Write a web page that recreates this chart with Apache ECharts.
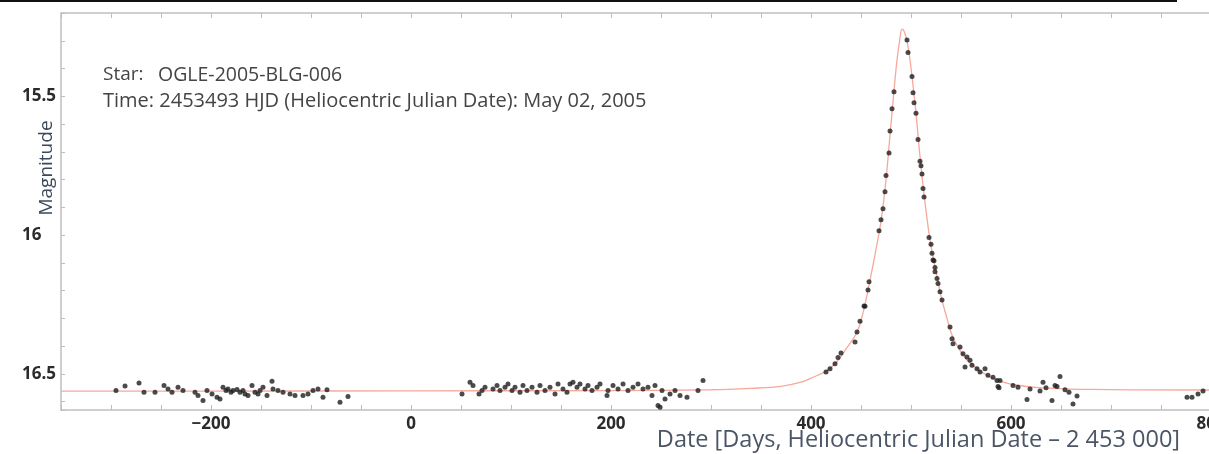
<!DOCTYPE html>
<html>
<head>
<meta charset="utf-8">
<script src="https://cdn.jsdelivr.net/npm/echarts@6/dist/echarts.min.js"></script>
<style>
html,body{margin:0;padding:0;background:#fff;}
#chart{width:1209px;height:454px;}
</style>
</head>
<body>
<div id="chart"></div>
<script>
// Fitted light curve: [day, magnitude]
const fitCurve = [[-350,16.562],[-200,16.562],[0,16.561],[200,16.560],[300,16.557],[340,16.552],[370,16.545],[390,16.530],[402,16.512],[415,16.49],[425,16.46],[435,16.41],[446,16.35],[452,16.28],[458,16.18],[464,16.07],[470,15.95],[475,15.80],[479,15.64],[483,15.48],[486,15.37],[489,15.29],[491,15.258],[493,15.265],[496,15.30],[499,15.37],[502,15.46],[505,15.56],[508,15.68],[512,15.82],[516,15.94],[520,16.04],[525,16.13],[530,16.22],[536,16.30],[541,16.36],[548,16.41],[556,16.45],[566,16.48],[576,16.505],[588,16.525],[605,16.54],[630,16.55],[680,16.556],[800,16.558]];

// Observations before the event (season 1)
const obsSeason1 = [[-295,16.560],[-286,16.544],[-272,16.533],[-267,16.566],[-256,16.566],[-247,16.542],[-243,16.554],[-239,16.566],[-233,16.548],[-228,16.560],[-216,16.566],[-213,16.578],[-208,16.596],[-204,16.560],[-199,16.572],[-194,16.584],[-191,16.590],[-188,16.548],[-185,16.560],[-183,16.554],[-180,16.566],[-178,16.560],[-174,16.556],[-171,16.566],[-168,16.560],[-166,16.572],[-163,16.578],[-159,16.542],[-156,16.566],[-153,16.572],[-151,16.560],[-148,16.548],[-144,16.578],[-139,16.526],[-138,16.554],[-133,16.560],[-128,16.566],[-121,16.572],[-116,16.578],[-108,16.578],[-103,16.572],[-98,16.560],[-93,16.554],[-88,16.584],[-84,16.557],[-71,16.602],[-63,16.581]];

// Observations before the event (season 2)
const obsSeason2 = [[51,16.572],[59,16.530],[62,16.542],[68,16.572],[71,16.560],[74,16.548],[82,16.554],[86,16.542],[89,16.560],[94,16.548],[97,16.536],[101,16.560],[104,16.548],[109,16.566],[112,16.542],[116,16.560],[121,16.548],[126,16.566],[129,16.542],[134,16.560],[139,16.548],[144,16.572],[147,16.536],[152,16.554],[156,16.566],[159,16.536],[162,16.530],[166,16.548],[169,16.536],[174,16.554],[177,16.542],[181,16.560],[186,16.548],[189,16.536],[196,16.578],[197,16.560],[202,16.542],[207,16.554],[212,16.536],[217,16.560],[222,16.548],[227,16.536],[232,16.554],[237,16.548],[241,16.578],[244,16.542],[247,16.614],[249,16.620],[251,16.560],[254,16.590],[259,16.572],[264,16.560],[269,16.578],[276,16.584],[287,16.560],[292,16.524]];

// Observations during the event (season 3)
const obsSeason3 = [[415,16.493],[419,16.481],[424,16.463],[427,16.441],[430,16.425],[444,16.385],[446,16.349],[449,16.310],[453,16.255],[454,16.256],[457,16.198],[458,16.168],[468,15.984],[470,15.945],[472,15.905],[474,15.844],[475,15.785],[478,15.704],[479,15.625],[481,15.545],[483,15.484],[496,15.297],[497,15.342],[501,15.429],[502,15.487],[503,15.523],[505,15.561],[507,15.656],[509,15.734],[510,15.750],[511,15.780],[512,15.832],[513,15.863],[518,16.009],[520,16.033],[521,16.065],[522,16.090],[523,16.092],[524,16.117],[524,16.132],[526,16.156],[527,16.174],[529,16.204],[531,16.234],[539,16.331],[541,16.373],[542,16.391],[549,16.403],[552,16.427],[554,16.475],[556,16.439],[559,16.451],[561,16.469],[566,16.481],[569,16.493],[574,16.481],[577,16.505],[582,16.512],[586,16.524],[587,16.545],[589,16.524],[588,16.550],[602,16.542],[607,16.548],[616,16.592],[619,16.554],[629,16.562],[632,16.530],[635,16.550],[641,16.596],[644,16.542],[646,16.545],[649,16.509],[654,16.557],[658,16.566],[662,16.608],[666,16.580],[776,16.584],[781,16.584],[787,16.572],[792,16.562]];

const xTickLabels = [-200, 0, 200, 400, 600, 800];
const yTickLabels = [15.5, 16, 16.5];

const starText = 'Star:';
const starName = 'OGLE-2005-BLG-006';
const timeText = 'Time: 2453493 HJD (Heliocentric Julian Date): May 02, 2005';
const xName = 'Date [Days, Heliocentric Julian Date \u2013 2 453 000]';
const yName = 'Magnitude';

const FONT = '"Open Sans", Lato, sans-serif';
const axisGray = '#cfcfcf';

const chart = echarts.init(document.getElementById('chart'), null, {renderer: 'canvas'});

function near(v, list) { return list.some(t => Math.abs(v - t) < 1e-6); }

const option = {
  backgroundColor: '#ffffff',
  animation: false,
  grid: {left: 61, top: 13, right: -2, bottom: 44, containLabel: false, outerBoundsMode: 'none'},
  xAxis: [{
    type: 'value', min: -350, max: 800, interval: 50,
    axisLine: {show: true, onZero: false, lineStyle: {color: axisGray, width: 2}},
    axisTick: {show: true, inside: true, length: 5, lineStyle: {color: '#bdbdbd'}},
    splitLine: {show: false},
    axisLabel: {
      margin: 6, color: '#2b2b2b', fontFamily: FONT, fontWeight: 'bold', fontSize: 17,
      hideOverlap: false,
      formatter: v => near(v, xTickLabels) ? (v < 0 ? '\u2212' + Math.abs(v) : String(v)) : ''
    }
  }, {
    type: 'value', position: 'top', min: -350, max: 800, interval: 50,
    axisLine: {show: true, onZero: false, lineStyle: {color: axisGray, width: 2}},
    axisTick: {show: true, inside: true, length: 5, lineStyle: {color: '#bdbdbd'}},
    axisLabel: {show: false}, splitLine: {show: false}
  }],
  yAxis: {
    type: 'value', inverse: true, min: 15.2, max: 16.63, interval: 0.1,
    axisLine: {show: true, onZero: false, lineStyle: {color: axisGray, width: 2}},
    axisTick: {show: true, inside: true, length: 4, lineStyle: {color: '#bdbdbd'}},
    splitLine: {show: false},
    axisLabel: {
      margin: 39, align: 'left', color: '#2b2b2b', fontFamily: FONT, fontWeight: 'bold', fontSize: 17,
      formatter: v => near(v, yTickLabels) ? String(Math.round(v * 10) / 10) : ''
    }
  },
  series: [{
    type: 'line', data: fitCurve, smooth: 0.4, showSymbol: false, z: 2,
    lineStyle: {color: '#f7a89b', width: 1.3}
  }, {
    type: 'scatter', data: obsSeason1, symbol: 'circle', symbolSize: 5, z: 3,
    itemStyle: {color: '#1e1e1e'}
  }, {
    type: 'scatter', data: obsSeason2, symbol: 'circle', symbolSize: 5, z: 3,
    itemStyle: {color: '#1e1e1e'}
  }, {
    type: 'scatter', data: obsSeason3, symbol: 'circle', symbolSize: 5, z: 3,
    itemStyle: {color: '#1e1e1e'}
  }],
  graphic: [
    {type: 'line', shape: {x1: 0, y1: 1, x2: 1177, y2: 1}, style: {stroke: '#111', lineWidth: 2}},
    {type: 'text', left: 103, top: 65, style: {text: starText, fill: '#444', font: '19px ' + FONT}},
    {type: 'text', left: 158, top: 65, style: {text: starName, fill: '#444', font: '19.5px ' + FONT}},
    {type: 'text', left: 103, top: 91, style: {text: timeText, fill: '#444', font: '20px ' + FONT}},
    {type: 'text', right: 29, top: 428, style: {text: xName, fill: '#4a5566', font: '23.5px ' + FONT}},
    {type: 'text', x: 47, y: 168, rotation: Math.PI / 2,
     style: {text: yName, fill: '#3a4a5c', font: '19px ' + FONT, align: 'center', verticalAlign: 'middle'}}
  ]
};
chart.setOption(option);
</script>
</body>
</html>
